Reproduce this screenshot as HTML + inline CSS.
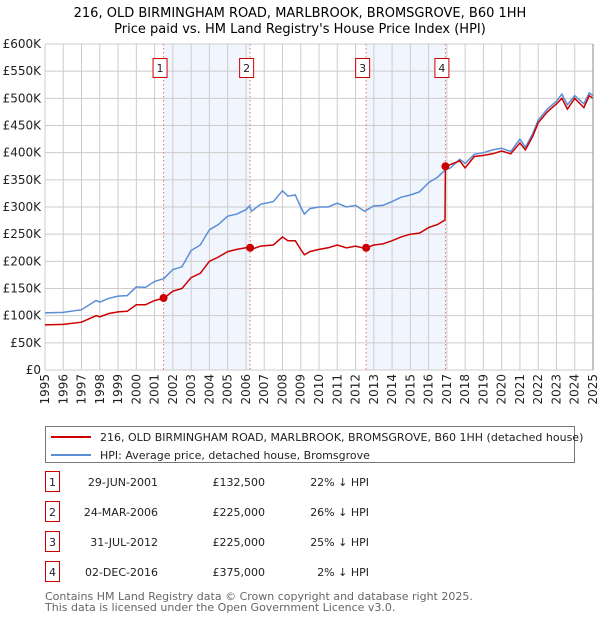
<!DOCTYPE html>
<html><head><meta charset="utf-8"><style>
body{margin:0;background:#fff;font-family:"Liberation Sans","DejaVu Sans",sans-serif;}
#wrap{position:relative;width:600px;height:620px;overflow:hidden;}
svg text{font-family:"DejaVu Sans","Liberation Sans",sans-serif;}
</style></head><body>
<div id="wrap">
<svg id="c" width="600" height="620"></svg>
</div>
<script>
const hpiYears=[1995,1996,1997,1997.8,1998,1998.5,1999,1999.5,2000,2000.5,2001,2001.5,2002,2002.5,2003,2003.5,2004,2004.5,2005,2005.5,2006,2006.2,2006.3,2006.8,2007.5,2008,2008.3,2008.7,2009,2009.2,2009.5,2010,2010.5,2011,2011.5,2012,2012.5,2013,2013.5,2014,2014.5,2015,2015.5,2016,2016.5,2016.9,2017.2,2017.7,2018,2018.5,2019,2019.5,2020,2020.5,2021,2021.3,2021.7,2022,2022.5,2023,2023.3,2023.6,2024,2024.5,2024.8,2025];
const hpiValues=[105,106,111,128,125,132,136,137,153,152,163,168,185,190,220,230,258,268,283,287,295,302,292,305,310,330,320,322,300,287,297,300,300,307,300,303,292,302,303,310,318,322,328,345,355,368,372,388,380,397,400,405,408,402,425,410,435,460,480,495,508,488,505,490,510,505];
const redYears=[1995,1996,1997,1997.8,1998,1998.5,1999,1999.5,2000,2000.5,2001,2001.5,2002,2002.5,2003,2003.5,2004,2004.5,2005,2005.5,2006,2006.2,2006.3,2006.8,2007.5,2008,2008.3,2008.7,2009,2009.2,2009.5,2010,2010.5,2011,2011.5,2012,2012.5,2013,2013.5,2014,2014.5,2015,2015.5,2016,2016.5,2016.9,2016.92,2017.2,2017.7,2018,2018.5,2019,2019.5,2020,2020.5,2021,2021.3,2021.7,2022,2022.5,2023,2023.3,2023.6,2024,2024.5,2024.8,2025];
const redValues=[83,84,88,100,98,104,107,108,120,120,128,132,145,150,170,178,200,208,218,222,225,228,222,228,230,245,238,238,222,212,218,222,225,230,225,228,224,230,232,238,245,250,252,262,268,276,375,378,385,372,393,395,398,403,398,418,405,430,455,475,490,500,480,500,483,505,500];
const saleYears=[2001.49,2006.23,2012.58,2016.92];
const saleValues=[132.5,225,225,375];
const saleLabels=["1","2","3","4"];
const yTicks=[0,50,100,150,200,250,300,350,400,450,500,550,600];
const yTickLabels=["£0","£50K","£100K","£150K","£200K","£250K","£300K","£350K","£400K","£450K","£500K","£550K","£600K"];
const xTicks=[1995,1996,1997,1998,1999,2000,2001,2002,2003,2004,2005,2006,2007,2008,2009,2010,2011,2012,2013,2014,2015,2016,2017,2018,2019,2020,2021,2022,2023,2024,2025];
const saleDates=["29-JUN-2001","24-MAR-2006","31-JUL-2012","02-DEC-2016"];
const salePrices=["£132,500","£225,000","£225,000","£375,000"];
const saleHpi=["22% ↓ HPI","26% ↓ HPI","25% ↓ HPI","2% ↓ HPI"];

const NS="http://www.w3.org/2000/svg";
const svg=document.getElementById('c');
const L=45,R=593,T=44,B=370;
const x=v=>L+(v-1995)/30*(R-L);
const y=v=>B-v/600*(B-T);
function mk(tag,attrs,parent){const e=document.createElementNS(NS,tag);for(const k in attrs)e.setAttribute(k,attrs[k]);(parent||svg).appendChild(e);return e;}
function txt(s,attrs,parent){const e=mk('text',attrs,parent);e.textContent=s;return e;}

let t=txt("216, OLD BIRMINGHAM ROAD, MARLBROOK, BROMSGROVE, B60 1HH",{x:300,y:17,'text-anchor':'middle','font-size':13});

t=txt("Price paid vs. HM Land Registry's House Price Index (HPI)",{x:300,y:33,'text-anchor':'middle','font-size':13});


for(const [a,b] of [[0,1],[2,3]]){
  const r=mk('rect',{x:x(saleYears[a]),y:T,width:x(saleYears[b])-x(saleYears[a]),height:B-T,fill:'#eef3fc',opacity:0.8});
  
}
yTicks.forEach((v,i)=>{
  const g=mk('line',{x1:L,x2:R,y1:y(v),y2:y(v),stroke:'#cccccc','stroke-width':1});
  
  const l=txt(yTickLabels[i],{x:L-4,y:y(v)+4,'text-anchor':'end','font-size':12,fill:'#222'});
  
});
xTicks.forEach(v=>{
  const g=mk('line',{x1:x(v),x2:x(v),y1:T,y2:B,stroke:'#cccccc','stroke-width':1});
  
  const l=txt(String(v),{x:0,y:0,'text-anchor':'end','font-size':12,fill:'#222',transform:`translate(${x(v)+4},${B+4}) rotate(-90)`});
  
});
saleYears.forEach((v,i)=>{
  const l=mk('line',{x1:x(v),x2:x(v),y1:T,y2:B,stroke:'#f07070','stroke-width':1,'stroke-dasharray':'1.5,2.5'});
  
  const g=mk('g',{});
  
  mk('rect',{x:x(v)-10.5,y:58.5,width:14,height:19,fill:'#fff',stroke:'#cc0000','stroke-width':1},g);
  txt(saleLabels[i],{x:x(v)-3.5,y:72,'text-anchor':'middle','font-size':11,fill:'#222'},g);
});
const path=(xs,vs)=>xs.map((v,i)=>(i?'L':'M')+x(v).toFixed(1)+','+y(vs[i]).toFixed(1)).join('');
let p=mk('path',{d:path(hpiYears,hpiValues),fill:'none',stroke:'#5b8ed6','stroke-width':1.5});

p=mk('path',{d:path(redYears,redValues),fill:'none',stroke:'#cc0000','stroke-width':1.5});

saleYears.forEach((v,i)=>{
  const c=mk('circle',{cx:x(v),cy:y(saleValues[i]),r:4,fill:'#cc0000'});
  
});
mk('line',{x1:R,x2:R,y1:T,y2:B,stroke:'#888','stroke-width':1});

const lg=mk('g',{});

mk('rect',{x:45.5,y:426.5,width:529,height:36,fill:'#fff',stroke:'#777','stroke-width':1},lg);
mk('line',{x1:51,x2:91,y1:437,y2:437,stroke:'#cc0000','stroke-width':2},lg);
txt("216, OLD BIRMINGHAM ROAD, MARLBROOK, BROMSGROVE, B60 1HH (detached house)",{x:100,y:441,'font-size':11,fill:'#222'},lg);
mk('line',{x1:51,x2:91,y1:455,y2:455,stroke:'#5b8ed6','stroke-width':2},lg);
txt("HPI: Average price, detached house, Bromsgrove",{x:100,y:459,'font-size':11,fill:'#222'},lg);

saleDates.forEach((d,i)=>{
  const cy=483+i*30;
  const g=mk('g',{});
  
  mk('rect',{x:45.5,y:cy-11.5,width:14,height:20,fill:'#fff',stroke:'#cc0000','stroke-width':1},g);
  txt(saleLabels[i],{x:52.5,y:cy+3,'text-anchor':'middle','font-size':11,fill:'#222'},g);
  txt(d,{x:158,y:cy+3,'text-anchor':'end','font-size':11,fill:'#222'},g);
  txt(salePrices[i],{x:265,y:cy+3,'text-anchor':'end','font-size':11,fill:'#222'},g);
  txt(saleHpi[i],{x:369,y:cy+3,'text-anchor':'end','font-size':11,fill:'#222'},g);
});
t=txt("Contains HM Land Registry data © Crown copyright and database right 2025.",{x:45,y:600,'font-size':11,fill:'#666'});

t=txt("This data is licensed under the Open Government Licence v3.0.",{x:45,y:611,'font-size':11,fill:'#666'});

</script>
</body></html>
